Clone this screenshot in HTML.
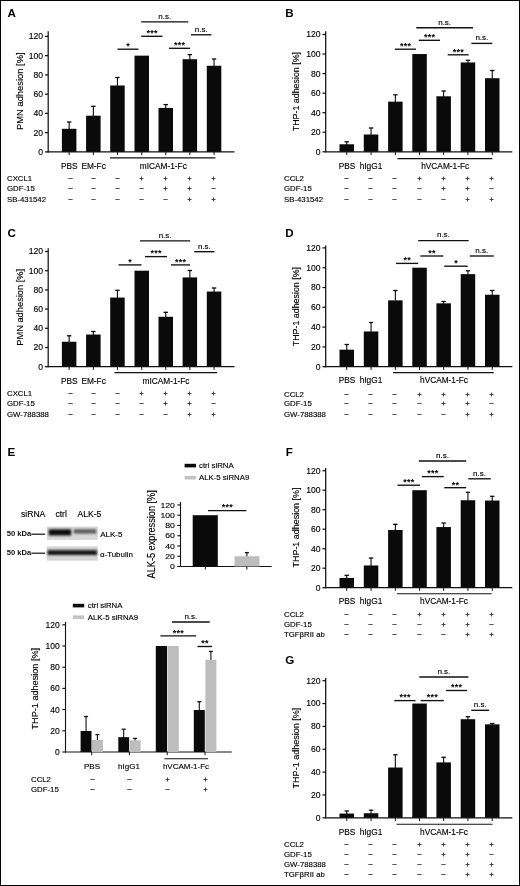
<!DOCTYPE html>
<html lang="en">
<head>
<meta charset="utf-8">
<title>Figure</title>
<style>
html,body{margin:0;padding:0;background:#fff;}
body{width:520px;height:886px;overflow:hidden;position:relative;}
svg{display:block;position:absolute;left:0;top:0;will-change:transform;transform:translateZ(0);}
svg text{font-family:'Liberation Sans', sans-serif;}
.frame{position:absolute;left:0;top:0;width:518px;height:884px;border:1px solid #000;pointer-events:none;}
</style>
</head>
<body>
<svg width="520" height="886" viewBox="0 0 520 886">
<rect x="0" y="0" width="520" height="886" fill="#fff"/>
<text x="7.40" y="17.20" font-size="11.6" text-anchor="start" font-weight="bold" fill="#000">A</text>
<line x1="48.20" y1="31.20" x2="48.20" y2="152.40" stroke="#111" stroke-width="1.25"/>
<line x1="45.00" y1="151.90" x2="48.20" y2="151.90" stroke="#111" stroke-width="1.25"/>
<text x="43.00" y="154.80" font-size="8.6" text-anchor="end" font-weight="normal" fill="#000" stroke="#000" stroke-width="0.14">0</text>
<line x1="45.00" y1="132.65" x2="48.20" y2="132.65" stroke="#111" stroke-width="1.25"/>
<text x="43.00" y="135.55" font-size="8.6" text-anchor="end" font-weight="normal" fill="#000" stroke="#000" stroke-width="0.14">20</text>
<line x1="45.00" y1="113.40" x2="48.20" y2="113.40" stroke="#111" stroke-width="1.25"/>
<text x="43.00" y="116.30" font-size="8.6" text-anchor="end" font-weight="normal" fill="#000" stroke="#000" stroke-width="0.14">40</text>
<line x1="45.00" y1="94.15" x2="48.20" y2="94.15" stroke="#111" stroke-width="1.25"/>
<text x="43.00" y="97.05" font-size="8.6" text-anchor="end" font-weight="normal" fill="#000" stroke="#000" stroke-width="0.14">60</text>
<line x1="45.00" y1="74.90" x2="48.20" y2="74.90" stroke="#111" stroke-width="1.25"/>
<text x="43.00" y="77.80" font-size="8.6" text-anchor="end" font-weight="normal" fill="#000" stroke="#000" stroke-width="0.14">80</text>
<line x1="45.00" y1="55.65" x2="48.20" y2="55.65" stroke="#111" stroke-width="1.25"/>
<text x="43.00" y="58.55" font-size="8.6" text-anchor="end" font-weight="normal" fill="#000" stroke="#000" stroke-width="0.14">100</text>
<line x1="45.00" y1="36.40" x2="48.20" y2="36.40" stroke="#111" stroke-width="1.25"/>
<text x="43.00" y="39.30" font-size="8.6" text-anchor="end" font-weight="normal" fill="#000" stroke="#000" stroke-width="0.14">120</text>
<line x1="47.70" y1="151.90" x2="234.50" y2="151.90" stroke="#111" stroke-width="1.2"/>
<line x1="69.15" y1="129.30" x2="69.15" y2="122.00" stroke="#0a0a0a" stroke-width="1.1"/>
<line x1="66.95" y1="122.00" x2="71.35" y2="122.00" stroke="#0a0a0a" stroke-width="1.3"/>
<rect x="61.90" y="128.80" width="14.50" height="23.10" fill="#0a0a0a"/>
<line x1="69.15" y1="151.90" x2="69.15" y2="155.10" stroke="#111" stroke-width="1.0"/>
<line x1="93.35" y1="116.21" x2="93.35" y2="106.30" stroke="#0a0a0a" stroke-width="1.1"/>
<line x1="91.15" y1="106.30" x2="95.55" y2="106.30" stroke="#0a0a0a" stroke-width="1.3"/>
<rect x="86.10" y="115.71" width="14.50" height="36.19" fill="#0a0a0a"/>
<line x1="93.35" y1="151.90" x2="93.35" y2="155.10" stroke="#111" stroke-width="1.0"/>
<line x1="117.45" y1="85.99" x2="117.45" y2="77.50" stroke="#0a0a0a" stroke-width="1.1"/>
<line x1="115.25" y1="77.50" x2="119.65" y2="77.50" stroke="#0a0a0a" stroke-width="1.3"/>
<rect x="110.20" y="85.49" width="14.50" height="66.41" fill="#0a0a0a"/>
<line x1="117.45" y1="151.90" x2="117.45" y2="155.10" stroke="#111" stroke-width="1.0"/>
<rect x="134.50" y="55.65" width="14.50" height="96.25" fill="#0a0a0a"/>
<line x1="141.75" y1="151.90" x2="141.75" y2="155.10" stroke="#111" stroke-width="1.0"/>
<line x1="165.75" y1="108.41" x2="165.75" y2="104.60" stroke="#0a0a0a" stroke-width="1.1"/>
<line x1="163.55" y1="104.60" x2="167.95" y2="104.60" stroke="#0a0a0a" stroke-width="1.3"/>
<rect x="158.50" y="107.91" width="14.50" height="43.99" fill="#0a0a0a"/>
<line x1="165.75" y1="151.90" x2="165.75" y2="155.10" stroke="#111" stroke-width="1.0"/>
<line x1="189.85" y1="59.71" x2="189.85" y2="54.60" stroke="#0a0a0a" stroke-width="1.1"/>
<line x1="187.65" y1="54.60" x2="192.05" y2="54.60" stroke="#0a0a0a" stroke-width="1.3"/>
<rect x="182.60" y="59.21" width="14.50" height="92.69" fill="#0a0a0a"/>
<line x1="189.85" y1="151.90" x2="189.85" y2="155.10" stroke="#111" stroke-width="1.0"/>
<line x1="214.05" y1="66.26" x2="214.05" y2="59.00" stroke="#0a0a0a" stroke-width="1.1"/>
<line x1="211.85" y1="59.00" x2="216.25" y2="59.00" stroke="#0a0a0a" stroke-width="1.3"/>
<rect x="206.80" y="65.76" width="14.50" height="86.14" fill="#0a0a0a"/>
<line x1="214.05" y1="151.90" x2="214.05" y2="155.10" stroke="#111" stroke-width="1.0"/>
<text x="22.60" y="91.20" font-size="9.0" text-anchor="middle" font-weight="normal" fill="#000" stroke="#000" stroke-width="0.14" transform="rotate(-90 22.60 91.20)" textLength="77.5" lengthAdjust="spacingAndGlyphs">PMN adhesion [%]</text>
<text x="69.20" y="169.20" font-size="8.3" text-anchor="middle" font-weight="normal" fill="#000" stroke="#000" stroke-width="0.14">PBS</text>
<text x="93.60" y="169.20" font-size="8.3" text-anchor="middle" font-weight="normal" fill="#000" stroke="#000" stroke-width="0.14">EM-Fc</text>
<text x="163.30" y="169.20" font-size="8.3" text-anchor="middle" font-weight="normal" fill="#000" stroke="#000" stroke-width="0.14">mICAM-1-Fc</text>
<line x1="110.00" y1="157.90" x2="215.50" y2="157.90" stroke="#111" stroke-width="1.1"/>
<line x1="117.50" y1="49.20" x2="138.50" y2="49.20" stroke="#111" stroke-width="1.35"/>
<text x="128.20" y="49.00" font-size="9" text-anchor="middle" font-weight="bold" fill="#000" letter-spacing="0.25">*</text>
<line x1="141.20" y1="36.30" x2="162.50" y2="36.30" stroke="#111" stroke-width="1.35"/>
<text x="152.05" y="36.10" font-size="9" text-anchor="middle" font-weight="bold" fill="#000" letter-spacing="0.25">***</text>
<line x1="141.20" y1="21.80" x2="188.30" y2="21.80" stroke="#111" stroke-width="1.35"/>
<text x="164.75" y="18.60" font-size="8" text-anchor="middle" font-weight="normal" fill="#000" stroke="#000" stroke-width="0.14">n.s.</text>
<line x1="169.00" y1="48.30" x2="190.00" y2="48.30" stroke="#111" stroke-width="1.35"/>
<text x="179.70" y="48.10" font-size="9" text-anchor="middle" font-weight="bold" fill="#000" letter-spacing="0.25">***</text>
<line x1="191.00" y1="34.80" x2="211.40" y2="34.80" stroke="#111" stroke-width="1.35"/>
<text x="201.20" y="31.60" font-size="8" text-anchor="middle" font-weight="normal" fill="#000" stroke="#000" stroke-width="0.14">n.s.</text>
<text x="7.00" y="180.80" font-size="7.8" text-anchor="start" font-weight="normal" fill="#000" stroke="#000" stroke-width="0.14">CXCL1</text>
<line x1="68.30" y1="178.50" x2="72.70" y2="178.50" stroke="#555" stroke-width="1.0"/>
<line x1="91.30" y1="178.50" x2="95.70" y2="178.50" stroke="#555" stroke-width="1.0"/>
<line x1="115.30" y1="178.50" x2="119.70" y2="178.50" stroke="#555" stroke-width="1.0"/>
<line x1="139.50" y1="178.50" x2="143.50" y2="178.50" stroke="#444" stroke-width="1.0"/>
<line x1="141.50" y1="176.50" x2="141.50" y2="180.50" stroke="#444" stroke-width="1.0"/>
<line x1="163.50" y1="178.50" x2="167.50" y2="178.50" stroke="#444" stroke-width="1.0"/>
<line x1="165.50" y1="176.50" x2="165.50" y2="180.50" stroke="#444" stroke-width="1.0"/>
<line x1="187.50" y1="178.50" x2="191.50" y2="178.50" stroke="#444" stroke-width="1.0"/>
<line x1="189.50" y1="176.50" x2="189.50" y2="180.50" stroke="#444" stroke-width="1.0"/>
<line x1="211.50" y1="178.50" x2="215.50" y2="178.50" stroke="#444" stroke-width="1.0"/>
<line x1="213.50" y1="176.50" x2="213.50" y2="180.50" stroke="#444" stroke-width="1.0"/>
<text x="7.00" y="191.30" font-size="7.8" text-anchor="start" font-weight="normal" fill="#000" stroke="#000" stroke-width="0.14">GDF-15</text>
<line x1="68.30" y1="188.50" x2="72.70" y2="188.50" stroke="#555" stroke-width="1.0"/>
<line x1="91.30" y1="188.50" x2="95.70" y2="188.50" stroke="#555" stroke-width="1.0"/>
<line x1="115.30" y1="188.50" x2="119.70" y2="188.50" stroke="#555" stroke-width="1.0"/>
<line x1="139.30" y1="188.50" x2="143.70" y2="188.50" stroke="#555" stroke-width="1.0"/>
<line x1="163.50" y1="188.50" x2="167.50" y2="188.50" stroke="#444" stroke-width="1.0"/>
<line x1="165.50" y1="186.50" x2="165.50" y2="190.50" stroke="#444" stroke-width="1.0"/>
<line x1="187.50" y1="188.50" x2="191.50" y2="188.50" stroke="#444" stroke-width="1.0"/>
<line x1="189.50" y1="186.50" x2="189.50" y2="190.50" stroke="#444" stroke-width="1.0"/>
<line x1="211.30" y1="188.50" x2="215.70" y2="188.50" stroke="#555" stroke-width="1.0"/>
<text x="7.00" y="201.80" font-size="7.8" text-anchor="start" font-weight="normal" fill="#000" stroke="#000" stroke-width="0.14">SB-431542</text>
<line x1="68.30" y1="199.50" x2="72.70" y2="199.50" stroke="#555" stroke-width="1.0"/>
<line x1="91.30" y1="199.50" x2="95.70" y2="199.50" stroke="#555" stroke-width="1.0"/>
<line x1="115.30" y1="199.50" x2="119.70" y2="199.50" stroke="#555" stroke-width="1.0"/>
<line x1="139.30" y1="199.50" x2="143.70" y2="199.50" stroke="#555" stroke-width="1.0"/>
<line x1="163.30" y1="199.50" x2="167.70" y2="199.50" stroke="#555" stroke-width="1.0"/>
<line x1="187.50" y1="199.50" x2="191.50" y2="199.50" stroke="#444" stroke-width="1.0"/>
<line x1="189.50" y1="197.50" x2="189.50" y2="201.50" stroke="#444" stroke-width="1.0"/>
<line x1="211.50" y1="199.50" x2="215.50" y2="199.50" stroke="#444" stroke-width="1.0"/>
<line x1="213.50" y1="197.50" x2="213.50" y2="201.50" stroke="#444" stroke-width="1.0"/>
<text x="285.30" y="17.40" font-size="11.6" text-anchor="start" font-weight="bold" fill="#000">B</text>
<line x1="325.70" y1="31.20" x2="325.70" y2="152.30" stroke="#111" stroke-width="1.25"/>
<line x1="322.50" y1="151.80" x2="325.70" y2="151.80" stroke="#111" stroke-width="1.25"/>
<text x="320.50" y="154.70" font-size="8.6" text-anchor="end" font-weight="normal" fill="#000" stroke="#000" stroke-width="0.14">0</text>
<line x1="322.50" y1="132.25" x2="325.70" y2="132.25" stroke="#111" stroke-width="1.25"/>
<text x="320.50" y="135.15" font-size="8.6" text-anchor="end" font-weight="normal" fill="#000" stroke="#000" stroke-width="0.14">20</text>
<line x1="322.50" y1="112.70" x2="325.70" y2="112.70" stroke="#111" stroke-width="1.25"/>
<text x="320.50" y="115.60" font-size="8.6" text-anchor="end" font-weight="normal" fill="#000" stroke="#000" stroke-width="0.14">40</text>
<line x1="322.50" y1="93.15" x2="325.70" y2="93.15" stroke="#111" stroke-width="1.25"/>
<text x="320.50" y="96.05" font-size="8.6" text-anchor="end" font-weight="normal" fill="#000" stroke="#000" stroke-width="0.14">60</text>
<line x1="322.50" y1="73.60" x2="325.70" y2="73.60" stroke="#111" stroke-width="1.25"/>
<text x="320.50" y="76.50" font-size="8.6" text-anchor="end" font-weight="normal" fill="#000" stroke="#000" stroke-width="0.14">80</text>
<line x1="322.50" y1="54.05" x2="325.70" y2="54.05" stroke="#111" stroke-width="1.25"/>
<text x="320.50" y="56.95" font-size="8.6" text-anchor="end" font-weight="normal" fill="#000" stroke="#000" stroke-width="0.14">100</text>
<line x1="322.50" y1="34.50" x2="325.70" y2="34.50" stroke="#111" stroke-width="1.25"/>
<text x="320.50" y="37.40" font-size="8.6" text-anchor="end" font-weight="normal" fill="#000" stroke="#000" stroke-width="0.14">120</text>
<line x1="325.20" y1="151.80" x2="512.30" y2="151.80" stroke="#111" stroke-width="1.2"/>
<line x1="346.75" y1="144.77" x2="346.75" y2="141.80" stroke="#0a0a0a" stroke-width="1.1"/>
<line x1="344.55" y1="141.80" x2="348.95" y2="141.80" stroke="#0a0a0a" stroke-width="1.3"/>
<rect x="339.50" y="144.27" width="14.50" height="7.53" fill="#0a0a0a"/>
<line x1="346.75" y1="151.80" x2="346.75" y2="155.00" stroke="#111" stroke-width="1.0"/>
<line x1="371.05" y1="135.00" x2="371.05" y2="128.00" stroke="#0a0a0a" stroke-width="1.1"/>
<line x1="368.85" y1="128.00" x2="373.25" y2="128.00" stroke="#0a0a0a" stroke-width="1.3"/>
<rect x="363.80" y="134.50" width="14.50" height="17.30" fill="#0a0a0a"/>
<line x1="371.05" y1="151.80" x2="371.05" y2="155.00" stroke="#111" stroke-width="1.0"/>
<line x1="395.35" y1="102.15" x2="395.35" y2="94.80" stroke="#0a0a0a" stroke-width="1.1"/>
<line x1="393.15" y1="94.80" x2="397.55" y2="94.80" stroke="#0a0a0a" stroke-width="1.3"/>
<rect x="388.10" y="101.65" width="14.50" height="50.15" fill="#0a0a0a"/>
<line x1="395.35" y1="151.80" x2="395.35" y2="155.00" stroke="#111" stroke-width="1.0"/>
<rect x="412.30" y="54.05" width="14.50" height="97.75" fill="#0a0a0a"/>
<line x1="419.55" y1="151.80" x2="419.55" y2="155.00" stroke="#111" stroke-width="1.0"/>
<line x1="443.65" y1="96.78" x2="443.65" y2="91.00" stroke="#0a0a0a" stroke-width="1.1"/>
<line x1="441.45" y1="91.00" x2="445.85" y2="91.00" stroke="#0a0a0a" stroke-width="1.3"/>
<rect x="436.40" y="96.28" width="14.50" height="55.52" fill="#0a0a0a"/>
<line x1="443.65" y1="151.80" x2="443.65" y2="155.00" stroke="#111" stroke-width="1.0"/>
<line x1="467.95" y1="62.96" x2="467.95" y2="60.30" stroke="#0a0a0a" stroke-width="1.1"/>
<line x1="465.75" y1="60.30" x2="470.15" y2="60.30" stroke="#0a0a0a" stroke-width="1.3"/>
<rect x="460.70" y="62.46" width="14.50" height="89.34" fill="#0a0a0a"/>
<line x1="467.95" y1="151.80" x2="467.95" y2="155.00" stroke="#111" stroke-width="1.0"/>
<line x1="492.25" y1="78.69" x2="492.25" y2="70.50" stroke="#0a0a0a" stroke-width="1.1"/>
<line x1="490.05" y1="70.50" x2="494.45" y2="70.50" stroke="#0a0a0a" stroke-width="1.3"/>
<rect x="485.00" y="78.19" width="14.50" height="73.61" fill="#0a0a0a"/>
<line x1="492.25" y1="151.80" x2="492.25" y2="155.00" stroke="#111" stroke-width="1.0"/>
<text x="299.10" y="91.60" font-size="9.0" text-anchor="middle" font-weight="normal" fill="#000" stroke="#000" stroke-width="0.14" transform="rotate(-90 299.10 91.60)" textLength="79.3" lengthAdjust="spacingAndGlyphs">THP-1 adhesion [%]</text>
<text x="347.00" y="169.20" font-size="8.3" text-anchor="middle" font-weight="normal" fill="#000" stroke="#000" stroke-width="0.14">PBS</text>
<text x="371.00" y="169.20" font-size="8.3" text-anchor="middle" font-weight="normal" fill="#000" stroke="#000" stroke-width="0.14">hIgG1</text>
<text x="445.20" y="169.20" font-size="8.3" text-anchor="middle" font-weight="normal" fill="#000" stroke="#000" stroke-width="0.14">hVCAM-1-Fc</text>
<line x1="397.50" y1="158.60" x2="492.30" y2="158.60" stroke="#111" stroke-width="1.1"/>
<line x1="394.80" y1="49.20" x2="416.00" y2="49.20" stroke="#111" stroke-width="1.35"/>
<text x="405.60" y="49.00" font-size="9" text-anchor="middle" font-weight="bold" fill="#000" letter-spacing="0.25">***</text>
<line x1="418.80" y1="40.30" x2="440.00" y2="40.30" stroke="#111" stroke-width="1.35"/>
<text x="429.60" y="40.10" font-size="9" text-anchor="middle" font-weight="bold" fill="#000" letter-spacing="0.25">***</text>
<line x1="416.30" y1="27.70" x2="473.00" y2="27.70" stroke="#111" stroke-width="1.35"/>
<text x="444.65" y="24.50" font-size="8" text-anchor="middle" font-weight="normal" fill="#000" stroke="#000" stroke-width="0.14">n.s.</text>
<line x1="447.70" y1="54.80" x2="468.60" y2="54.80" stroke="#111" stroke-width="1.35"/>
<text x="458.35" y="54.60" font-size="9" text-anchor="middle" font-weight="bold" fill="#000" letter-spacing="0.25">***</text>
<line x1="471.40" y1="43.40" x2="492.30" y2="43.40" stroke="#111" stroke-width="1.35"/>
<text x="481.85" y="40.20" font-size="8" text-anchor="middle" font-weight="normal" fill="#000" stroke="#000" stroke-width="0.14">n.s.</text>
<text x="284.00" y="181.30" font-size="7.8" text-anchor="start" font-weight="normal" fill="#000" stroke="#000" stroke-width="0.14">CCL2</text>
<line x1="344.30" y1="178.50" x2="348.70" y2="178.50" stroke="#555" stroke-width="1.0"/>
<line x1="368.30" y1="178.50" x2="372.70" y2="178.50" stroke="#555" stroke-width="1.0"/>
<line x1="392.30" y1="178.50" x2="396.70" y2="178.50" stroke="#555" stroke-width="1.0"/>
<line x1="417.50" y1="178.50" x2="421.50" y2="178.50" stroke="#444" stroke-width="1.0"/>
<line x1="419.50" y1="176.50" x2="419.50" y2="180.50" stroke="#444" stroke-width="1.0"/>
<line x1="441.50" y1="178.50" x2="445.50" y2="178.50" stroke="#444" stroke-width="1.0"/>
<line x1="443.50" y1="176.50" x2="443.50" y2="180.50" stroke="#444" stroke-width="1.0"/>
<line x1="465.50" y1="178.50" x2="469.50" y2="178.50" stroke="#444" stroke-width="1.0"/>
<line x1="467.50" y1="176.50" x2="467.50" y2="180.50" stroke="#444" stroke-width="1.0"/>
<line x1="489.50" y1="178.50" x2="493.50" y2="178.50" stroke="#444" stroke-width="1.0"/>
<line x1="491.50" y1="176.50" x2="491.50" y2="180.50" stroke="#444" stroke-width="1.0"/>
<text x="284.00" y="191.30" font-size="7.8" text-anchor="start" font-weight="normal" fill="#000" stroke="#000" stroke-width="0.14">GDF-15</text>
<line x1="344.30" y1="188.50" x2="348.70" y2="188.50" stroke="#555" stroke-width="1.0"/>
<line x1="368.30" y1="188.50" x2="372.70" y2="188.50" stroke="#555" stroke-width="1.0"/>
<line x1="392.30" y1="188.50" x2="396.70" y2="188.50" stroke="#555" stroke-width="1.0"/>
<line x1="417.30" y1="188.50" x2="421.70" y2="188.50" stroke="#555" stroke-width="1.0"/>
<line x1="441.50" y1="188.50" x2="445.50" y2="188.50" stroke="#444" stroke-width="1.0"/>
<line x1="443.50" y1="186.50" x2="443.50" y2="190.50" stroke="#444" stroke-width="1.0"/>
<line x1="465.50" y1="188.50" x2="469.50" y2="188.50" stroke="#444" stroke-width="1.0"/>
<line x1="467.50" y1="186.50" x2="467.50" y2="190.50" stroke="#444" stroke-width="1.0"/>
<line x1="489.30" y1="188.50" x2="493.70" y2="188.50" stroke="#555" stroke-width="1.0"/>
<text x="284.00" y="201.80" font-size="7.8" text-anchor="start" font-weight="normal" fill="#000" stroke="#000" stroke-width="0.14">SB-431542</text>
<line x1="344.30" y1="199.50" x2="348.70" y2="199.50" stroke="#555" stroke-width="1.0"/>
<line x1="368.30" y1="199.50" x2="372.70" y2="199.50" stroke="#555" stroke-width="1.0"/>
<line x1="392.30" y1="199.50" x2="396.70" y2="199.50" stroke="#555" stroke-width="1.0"/>
<line x1="417.30" y1="199.50" x2="421.70" y2="199.50" stroke="#555" stroke-width="1.0"/>
<line x1="441.30" y1="199.50" x2="445.70" y2="199.50" stroke="#555" stroke-width="1.0"/>
<line x1="465.50" y1="199.50" x2="469.50" y2="199.50" stroke="#444" stroke-width="1.0"/>
<line x1="467.50" y1="197.50" x2="467.50" y2="201.50" stroke="#444" stroke-width="1.0"/>
<line x1="489.50" y1="199.50" x2="493.50" y2="199.50" stroke="#444" stroke-width="1.0"/>
<line x1="491.50" y1="197.50" x2="491.50" y2="201.50" stroke="#444" stroke-width="1.0"/>
<text x="7.60" y="237.20" font-size="11.6" text-anchor="start" font-weight="bold" fill="#000">C</text>
<line x1="48.20" y1="248.20" x2="48.20" y2="367.20" stroke="#111" stroke-width="1.25"/>
<line x1="45.00" y1="366.70" x2="48.20" y2="366.70" stroke="#111" stroke-width="1.25"/>
<text x="43.00" y="369.60" font-size="8.6" text-anchor="end" font-weight="normal" fill="#000" stroke="#000" stroke-width="0.14">0</text>
<line x1="45.00" y1="347.50" x2="48.20" y2="347.50" stroke="#111" stroke-width="1.25"/>
<text x="43.00" y="350.40" font-size="8.6" text-anchor="end" font-weight="normal" fill="#000" stroke="#000" stroke-width="0.14">20</text>
<line x1="45.00" y1="328.30" x2="48.20" y2="328.30" stroke="#111" stroke-width="1.25"/>
<text x="43.00" y="331.20" font-size="8.6" text-anchor="end" font-weight="normal" fill="#000" stroke="#000" stroke-width="0.14">40</text>
<line x1="45.00" y1="309.10" x2="48.20" y2="309.10" stroke="#111" stroke-width="1.25"/>
<text x="43.00" y="312.00" font-size="8.6" text-anchor="end" font-weight="normal" fill="#000" stroke="#000" stroke-width="0.14">60</text>
<line x1="45.00" y1="289.90" x2="48.20" y2="289.90" stroke="#111" stroke-width="1.25"/>
<text x="43.00" y="292.80" font-size="8.6" text-anchor="end" font-weight="normal" fill="#000" stroke="#000" stroke-width="0.14">80</text>
<line x1="45.00" y1="270.70" x2="48.20" y2="270.70" stroke="#111" stroke-width="1.25"/>
<text x="43.00" y="273.60" font-size="8.6" text-anchor="end" font-weight="normal" fill="#000" stroke="#000" stroke-width="0.14">100</text>
<line x1="45.00" y1="251.50" x2="48.20" y2="251.50" stroke="#111" stroke-width="1.25"/>
<text x="43.00" y="254.40" font-size="8.6" text-anchor="end" font-weight="normal" fill="#000" stroke="#000" stroke-width="0.14">120</text>
<line x1="47.70" y1="366.70" x2="234.50" y2="366.70" stroke="#111" stroke-width="1.2"/>
<line x1="69.15" y1="342.24" x2="69.15" y2="335.80" stroke="#0a0a0a" stroke-width="1.1"/>
<line x1="66.95" y1="335.80" x2="71.35" y2="335.80" stroke="#0a0a0a" stroke-width="1.3"/>
<rect x="61.90" y="341.74" width="14.50" height="24.96" fill="#0a0a0a"/>
<line x1="69.15" y1="366.70" x2="69.15" y2="369.90" stroke="#111" stroke-width="1.0"/>
<line x1="93.35" y1="335.04" x2="93.35" y2="331.50" stroke="#0a0a0a" stroke-width="1.1"/>
<line x1="91.15" y1="331.50" x2="95.55" y2="331.50" stroke="#0a0a0a" stroke-width="1.3"/>
<rect x="86.10" y="334.54" width="14.50" height="32.16" fill="#0a0a0a"/>
<line x1="93.35" y1="366.70" x2="93.35" y2="369.90" stroke="#111" stroke-width="1.0"/>
<line x1="117.45" y1="298.08" x2="117.45" y2="290.30" stroke="#0a0a0a" stroke-width="1.1"/>
<line x1="115.25" y1="290.30" x2="119.65" y2="290.30" stroke="#0a0a0a" stroke-width="1.3"/>
<rect x="110.20" y="297.58" width="14.50" height="69.12" fill="#0a0a0a"/>
<line x1="117.45" y1="366.70" x2="117.45" y2="369.90" stroke="#111" stroke-width="1.0"/>
<rect x="134.50" y="270.70" width="14.50" height="96.00" fill="#0a0a0a"/>
<line x1="141.75" y1="366.70" x2="141.75" y2="369.90" stroke="#111" stroke-width="1.0"/>
<line x1="165.75" y1="317.28" x2="165.75" y2="312.30" stroke="#0a0a0a" stroke-width="1.1"/>
<line x1="163.55" y1="312.30" x2="167.95" y2="312.30" stroke="#0a0a0a" stroke-width="1.3"/>
<rect x="158.50" y="316.78" width="14.50" height="49.92" fill="#0a0a0a"/>
<line x1="165.75" y1="366.70" x2="165.75" y2="369.90" stroke="#111" stroke-width="1.0"/>
<line x1="189.85" y1="277.92" x2="189.85" y2="270.50" stroke="#0a0a0a" stroke-width="1.1"/>
<line x1="187.65" y1="270.50" x2="192.05" y2="270.50" stroke="#0a0a0a" stroke-width="1.3"/>
<rect x="182.60" y="277.42" width="14.50" height="89.28" fill="#0a0a0a"/>
<line x1="189.85" y1="366.70" x2="189.85" y2="369.90" stroke="#111" stroke-width="1.0"/>
<line x1="214.05" y1="292.03" x2="214.05" y2="288.00" stroke="#0a0a0a" stroke-width="1.1"/>
<line x1="211.85" y1="288.00" x2="216.25" y2="288.00" stroke="#0a0a0a" stroke-width="1.3"/>
<rect x="206.80" y="291.53" width="14.50" height="75.17" fill="#0a0a0a"/>
<line x1="214.05" y1="366.70" x2="214.05" y2="369.90" stroke="#111" stroke-width="1.0"/>
<text x="22.60" y="307.30" font-size="9.0" text-anchor="middle" font-weight="normal" fill="#000" stroke="#000" stroke-width="0.14" transform="rotate(-90 22.60 307.30)" textLength="77.0" lengthAdjust="spacingAndGlyphs">PMN adhesion [%]</text>
<text x="69.20" y="384.40" font-size="8.3" text-anchor="middle" font-weight="normal" fill="#000" stroke="#000" stroke-width="0.14">PBS</text>
<text x="93.60" y="384.40" font-size="8.3" text-anchor="middle" font-weight="normal" fill="#000" stroke="#000" stroke-width="0.14">EM-Fc</text>
<text x="166.00" y="384.40" font-size="8.3" text-anchor="middle" font-weight="normal" fill="#000" stroke="#000" stroke-width="0.14">mICAM-1-Fc</text>
<line x1="114.50" y1="372.60" x2="217.00" y2="372.60" stroke="#111" stroke-width="1.1"/>
<line x1="118.50" y1="264.90" x2="141.50" y2="264.90" stroke="#111" stroke-width="1.35"/>
<text x="130.20" y="264.70" font-size="9" text-anchor="middle" font-weight="bold" fill="#000" letter-spacing="0.25">*</text>
<line x1="145.00" y1="256.60" x2="167.00" y2="256.60" stroke="#111" stroke-width="1.35"/>
<text x="156.20" y="256.40" font-size="9" text-anchor="middle" font-weight="bold" fill="#000" letter-spacing="0.25">***</text>
<line x1="140.00" y1="240.90" x2="190.20" y2="240.90" stroke="#111" stroke-width="1.35"/>
<text x="165.10" y="237.70" font-size="8" text-anchor="middle" font-weight="normal" fill="#000" stroke="#000" stroke-width="0.14">n.s.</text>
<line x1="171.00" y1="264.90" x2="190.00" y2="264.90" stroke="#111" stroke-width="1.35"/>
<text x="180.70" y="264.70" font-size="9" text-anchor="middle" font-weight="bold" fill="#000" letter-spacing="0.25">***</text>
<line x1="194.20" y1="251.70" x2="214.50" y2="251.70" stroke="#111" stroke-width="1.35"/>
<text x="204.35" y="248.50" font-size="8" text-anchor="middle" font-weight="normal" fill="#000" stroke="#000" stroke-width="0.14">n.s.</text>
<text x="7.00" y="395.80" font-size="7.8" text-anchor="start" font-weight="normal" fill="#000" stroke="#000" stroke-width="0.14">CXCL1</text>
<line x1="68.30" y1="393.50" x2="72.70" y2="393.50" stroke="#555" stroke-width="1.0"/>
<line x1="91.30" y1="393.50" x2="95.70" y2="393.50" stroke="#555" stroke-width="1.0"/>
<line x1="115.30" y1="393.50" x2="119.70" y2="393.50" stroke="#555" stroke-width="1.0"/>
<line x1="139.50" y1="393.50" x2="143.50" y2="393.50" stroke="#444" stroke-width="1.0"/>
<line x1="141.50" y1="391.50" x2="141.50" y2="395.50" stroke="#444" stroke-width="1.0"/>
<line x1="163.50" y1="393.50" x2="167.50" y2="393.50" stroke="#444" stroke-width="1.0"/>
<line x1="165.50" y1="391.50" x2="165.50" y2="395.50" stroke="#444" stroke-width="1.0"/>
<line x1="187.50" y1="393.50" x2="191.50" y2="393.50" stroke="#444" stroke-width="1.0"/>
<line x1="189.50" y1="391.50" x2="189.50" y2="395.50" stroke="#444" stroke-width="1.0"/>
<line x1="211.50" y1="393.50" x2="215.50" y2="393.50" stroke="#444" stroke-width="1.0"/>
<line x1="213.50" y1="391.50" x2="213.50" y2="395.50" stroke="#444" stroke-width="1.0"/>
<text x="7.00" y="405.80" font-size="7.8" text-anchor="start" font-weight="normal" fill="#000" stroke="#000" stroke-width="0.14">GDF-15</text>
<line x1="68.30" y1="403.50" x2="72.70" y2="403.50" stroke="#555" stroke-width="1.0"/>
<line x1="91.30" y1="403.50" x2="95.70" y2="403.50" stroke="#555" stroke-width="1.0"/>
<line x1="115.30" y1="403.50" x2="119.70" y2="403.50" stroke="#555" stroke-width="1.0"/>
<line x1="139.30" y1="403.50" x2="143.70" y2="403.50" stroke="#555" stroke-width="1.0"/>
<line x1="163.50" y1="403.50" x2="167.50" y2="403.50" stroke="#444" stroke-width="1.0"/>
<line x1="165.50" y1="401.50" x2="165.50" y2="405.50" stroke="#444" stroke-width="1.0"/>
<line x1="187.50" y1="403.50" x2="191.50" y2="403.50" stroke="#444" stroke-width="1.0"/>
<line x1="189.50" y1="401.50" x2="189.50" y2="405.50" stroke="#444" stroke-width="1.0"/>
<line x1="211.30" y1="403.50" x2="215.70" y2="403.50" stroke="#555" stroke-width="1.0"/>
<text x="7.00" y="416.80" font-size="7.8" text-anchor="start" font-weight="normal" fill="#000" stroke="#000" stroke-width="0.14">GW-788388</text>
<line x1="68.30" y1="414.50" x2="72.70" y2="414.50" stroke="#555" stroke-width="1.0"/>
<line x1="91.30" y1="414.50" x2="95.70" y2="414.50" stroke="#555" stroke-width="1.0"/>
<line x1="115.30" y1="414.50" x2="119.70" y2="414.50" stroke="#555" stroke-width="1.0"/>
<line x1="139.30" y1="414.50" x2="143.70" y2="414.50" stroke="#555" stroke-width="1.0"/>
<line x1="163.30" y1="414.50" x2="167.70" y2="414.50" stroke="#555" stroke-width="1.0"/>
<line x1="187.50" y1="414.50" x2="191.50" y2="414.50" stroke="#444" stroke-width="1.0"/>
<line x1="189.50" y1="412.50" x2="189.50" y2="416.50" stroke="#444" stroke-width="1.0"/>
<line x1="211.50" y1="414.50" x2="215.50" y2="414.50" stroke="#444" stroke-width="1.0"/>
<line x1="213.50" y1="412.50" x2="213.50" y2="416.50" stroke="#444" stroke-width="1.0"/>
<text x="285.20" y="237.20" font-size="11.6" text-anchor="start" font-weight="bold" fill="#000">D</text>
<line x1="325.70" y1="245.50" x2="325.70" y2="367.20" stroke="#111" stroke-width="1.25"/>
<line x1="322.50" y1="366.70" x2="325.70" y2="366.70" stroke="#111" stroke-width="1.25"/>
<text x="320.50" y="369.60" font-size="8.6" text-anchor="end" font-weight="normal" fill="#000" stroke="#000" stroke-width="0.14">0</text>
<line x1="322.50" y1="346.90" x2="325.70" y2="346.90" stroke="#111" stroke-width="1.25"/>
<text x="320.50" y="349.80" font-size="8.6" text-anchor="end" font-weight="normal" fill="#000" stroke="#000" stroke-width="0.14">20</text>
<line x1="322.50" y1="327.10" x2="325.70" y2="327.10" stroke="#111" stroke-width="1.25"/>
<text x="320.50" y="330.00" font-size="8.6" text-anchor="end" font-weight="normal" fill="#000" stroke="#000" stroke-width="0.14">40</text>
<line x1="322.50" y1="307.30" x2="325.70" y2="307.30" stroke="#111" stroke-width="1.25"/>
<text x="320.50" y="310.20" font-size="8.6" text-anchor="end" font-weight="normal" fill="#000" stroke="#000" stroke-width="0.14">60</text>
<line x1="322.50" y1="287.50" x2="325.70" y2="287.50" stroke="#111" stroke-width="1.25"/>
<text x="320.50" y="290.40" font-size="8.6" text-anchor="end" font-weight="normal" fill="#000" stroke="#000" stroke-width="0.14">80</text>
<line x1="322.50" y1="267.70" x2="325.70" y2="267.70" stroke="#111" stroke-width="1.25"/>
<text x="320.50" y="270.60" font-size="8.6" text-anchor="end" font-weight="normal" fill="#000" stroke="#000" stroke-width="0.14">100</text>
<line x1="322.50" y1="247.90" x2="325.70" y2="247.90" stroke="#111" stroke-width="1.25"/>
<text x="320.50" y="250.80" font-size="8.6" text-anchor="end" font-weight="normal" fill="#000" stroke="#000" stroke-width="0.14">120</text>
<line x1="325.20" y1="366.70" x2="512.30" y2="366.70" stroke="#111" stroke-width="1.2"/>
<line x1="346.75" y1="350.17" x2="346.75" y2="344.50" stroke="#0a0a0a" stroke-width="1.1"/>
<line x1="344.55" y1="344.50" x2="348.95" y2="344.50" stroke="#0a0a0a" stroke-width="1.3"/>
<rect x="339.50" y="349.67" width="14.50" height="17.03" fill="#0a0a0a"/>
<line x1="346.75" y1="366.70" x2="346.75" y2="369.90" stroke="#111" stroke-width="1.0"/>
<line x1="371.05" y1="331.96" x2="371.05" y2="322.50" stroke="#0a0a0a" stroke-width="1.1"/>
<line x1="368.85" y1="322.50" x2="373.25" y2="322.50" stroke="#0a0a0a" stroke-width="1.3"/>
<rect x="363.80" y="331.46" width="14.50" height="35.24" fill="#0a0a0a"/>
<line x1="371.05" y1="366.70" x2="371.05" y2="369.90" stroke="#111" stroke-width="1.0"/>
<line x1="395.35" y1="300.87" x2="395.35" y2="290.50" stroke="#0a0a0a" stroke-width="1.1"/>
<line x1="393.15" y1="290.50" x2="397.55" y2="290.50" stroke="#0a0a0a" stroke-width="1.3"/>
<rect x="388.10" y="300.37" width="14.50" height="66.33" fill="#0a0a0a"/>
<line x1="395.35" y1="366.70" x2="395.35" y2="369.90" stroke="#111" stroke-width="1.0"/>
<rect x="412.30" y="267.70" width="14.50" height="99.00" fill="#0a0a0a"/>
<line x1="419.55" y1="366.70" x2="419.55" y2="369.90" stroke="#111" stroke-width="1.0"/>
<line x1="443.65" y1="303.84" x2="443.65" y2="301.50" stroke="#0a0a0a" stroke-width="1.1"/>
<line x1="441.45" y1="301.50" x2="445.85" y2="301.50" stroke="#0a0a0a" stroke-width="1.3"/>
<rect x="436.40" y="303.34" width="14.50" height="63.36" fill="#0a0a0a"/>
<line x1="443.65" y1="366.70" x2="443.65" y2="369.90" stroke="#111" stroke-width="1.0"/>
<line x1="467.95" y1="274.63" x2="467.95" y2="270.80" stroke="#0a0a0a" stroke-width="1.1"/>
<line x1="465.75" y1="270.80" x2="470.15" y2="270.80" stroke="#0a0a0a" stroke-width="1.3"/>
<rect x="460.70" y="274.13" width="14.50" height="92.56" fill="#0a0a0a"/>
<line x1="467.95" y1="366.70" x2="467.95" y2="369.90" stroke="#111" stroke-width="1.0"/>
<line x1="492.25" y1="295.23" x2="492.25" y2="290.50" stroke="#0a0a0a" stroke-width="1.1"/>
<line x1="490.05" y1="290.50" x2="494.45" y2="290.50" stroke="#0a0a0a" stroke-width="1.3"/>
<rect x="485.00" y="294.73" width="14.50" height="71.97" fill="#0a0a0a"/>
<line x1="492.25" y1="366.70" x2="492.25" y2="369.90" stroke="#111" stroke-width="1.0"/>
<text x="299.40" y="306.60" font-size="9.0" text-anchor="middle" font-weight="normal" fill="#000" stroke="#000" stroke-width="0.14" transform="rotate(-90 299.40 306.60)" textLength="79.3" lengthAdjust="spacingAndGlyphs">THP-1 adhesion [%]</text>
<text x="347.00" y="383.40" font-size="8.3" text-anchor="middle" font-weight="normal" fill="#000" stroke="#000" stroke-width="0.14">PBS</text>
<text x="371.00" y="383.40" font-size="8.3" text-anchor="middle" font-weight="normal" fill="#000" stroke="#000" stroke-width="0.14">hIgG1</text>
<text x="444.00" y="383.40" font-size="8.3" text-anchor="middle" font-weight="normal" fill="#000" stroke="#000" stroke-width="0.14">hVCAM-1-Fc</text>
<line x1="393.00" y1="372.60" x2="493.80" y2="372.60" stroke="#111" stroke-width="1.1"/>
<line x1="396.00" y1="263.40" x2="418.20" y2="263.40" stroke="#111" stroke-width="1.35"/>
<text x="407.30" y="263.20" font-size="9" text-anchor="middle" font-weight="bold" fill="#000" letter-spacing="0.25">**</text>
<line x1="420.30" y1="256.00" x2="443.40" y2="256.00" stroke="#111" stroke-width="1.35"/>
<text x="432.05" y="255.80" font-size="9" text-anchor="middle" font-weight="bold" fill="#000" letter-spacing="0.25">**</text>
<line x1="418.20" y1="240.60" x2="468.60" y2="240.60" stroke="#111" stroke-width="1.35"/>
<text x="443.40" y="237.40" font-size="8" text-anchor="middle" font-weight="normal" fill="#000" stroke="#000" stroke-width="0.14">n.s.</text>
<line x1="444.30" y1="266.20" x2="467.70" y2="266.20" stroke="#111" stroke-width="1.35"/>
<text x="456.20" y="266.00" font-size="9" text-anchor="middle" font-weight="bold" fill="#000" letter-spacing="0.25">*</text>
<line x1="469.80" y1="256.00" x2="493.80" y2="256.00" stroke="#111" stroke-width="1.35"/>
<text x="481.80" y="252.80" font-size="8" text-anchor="middle" font-weight="normal" fill="#000" stroke="#000" stroke-width="0.14">n.s.</text>
<text x="284.00" y="396.80" font-size="7.8" text-anchor="start" font-weight="normal" fill="#000" stroke="#000" stroke-width="0.14">CCL2</text>
<line x1="344.30" y1="394.50" x2="348.70" y2="394.50" stroke="#555" stroke-width="1.0"/>
<line x1="368.30" y1="394.50" x2="372.70" y2="394.50" stroke="#555" stroke-width="1.0"/>
<line x1="392.30" y1="394.50" x2="396.70" y2="394.50" stroke="#555" stroke-width="1.0"/>
<line x1="417.50" y1="394.50" x2="421.50" y2="394.50" stroke="#444" stroke-width="1.0"/>
<line x1="419.50" y1="392.50" x2="419.50" y2="396.50" stroke="#444" stroke-width="1.0"/>
<line x1="441.50" y1="394.50" x2="445.50" y2="394.50" stroke="#444" stroke-width="1.0"/>
<line x1="443.50" y1="392.50" x2="443.50" y2="396.50" stroke="#444" stroke-width="1.0"/>
<line x1="465.50" y1="394.50" x2="469.50" y2="394.50" stroke="#444" stroke-width="1.0"/>
<line x1="467.50" y1="392.50" x2="467.50" y2="396.50" stroke="#444" stroke-width="1.0"/>
<line x1="489.50" y1="394.50" x2="493.50" y2="394.50" stroke="#444" stroke-width="1.0"/>
<line x1="491.50" y1="392.50" x2="491.50" y2="396.50" stroke="#444" stroke-width="1.0"/>
<text x="284.00" y="406.30" font-size="7.8" text-anchor="start" font-weight="normal" fill="#000" stroke="#000" stroke-width="0.14">GDF-15</text>
<line x1="344.30" y1="403.50" x2="348.70" y2="403.50" stroke="#555" stroke-width="1.0"/>
<line x1="368.30" y1="403.50" x2="372.70" y2="403.50" stroke="#555" stroke-width="1.0"/>
<line x1="392.30" y1="403.50" x2="396.70" y2="403.50" stroke="#555" stroke-width="1.0"/>
<line x1="417.30" y1="403.50" x2="421.70" y2="403.50" stroke="#555" stroke-width="1.0"/>
<line x1="441.50" y1="403.50" x2="445.50" y2="403.50" stroke="#444" stroke-width="1.0"/>
<line x1="443.50" y1="401.50" x2="443.50" y2="405.50" stroke="#444" stroke-width="1.0"/>
<line x1="465.50" y1="403.50" x2="469.50" y2="403.50" stroke="#444" stroke-width="1.0"/>
<line x1="467.50" y1="401.50" x2="467.50" y2="405.50" stroke="#444" stroke-width="1.0"/>
<line x1="489.30" y1="403.50" x2="493.70" y2="403.50" stroke="#555" stroke-width="1.0"/>
<text x="284.00" y="416.80" font-size="7.8" text-anchor="start" font-weight="normal" fill="#000" stroke="#000" stroke-width="0.14">GW-788388</text>
<line x1="344.30" y1="414.50" x2="348.70" y2="414.50" stroke="#555" stroke-width="1.0"/>
<line x1="368.30" y1="414.50" x2="372.70" y2="414.50" stroke="#555" stroke-width="1.0"/>
<line x1="392.30" y1="414.50" x2="396.70" y2="414.50" stroke="#555" stroke-width="1.0"/>
<line x1="417.30" y1="414.50" x2="421.70" y2="414.50" stroke="#555" stroke-width="1.0"/>
<line x1="441.30" y1="414.50" x2="445.70" y2="414.50" stroke="#555" stroke-width="1.0"/>
<line x1="465.50" y1="414.50" x2="469.50" y2="414.50" stroke="#444" stroke-width="1.0"/>
<line x1="467.50" y1="412.50" x2="467.50" y2="416.50" stroke="#444" stroke-width="1.0"/>
<line x1="489.50" y1="414.50" x2="493.50" y2="414.50" stroke="#444" stroke-width="1.0"/>
<line x1="491.50" y1="412.50" x2="491.50" y2="416.50" stroke="#444" stroke-width="1.0"/>
<text x="285.70" y="455.60" font-size="11.6" text-anchor="start" font-weight="bold" fill="#000">F</text>
<line x1="325.70" y1="468.00" x2="325.70" y2="588.20" stroke="#111" stroke-width="1.25"/>
<line x1="322.50" y1="587.70" x2="325.70" y2="587.70" stroke="#111" stroke-width="1.25"/>
<text x="320.50" y="590.60" font-size="8.6" text-anchor="end" font-weight="normal" fill="#000" stroke="#000" stroke-width="0.14">0</text>
<line x1="322.50" y1="568.20" x2="325.70" y2="568.20" stroke="#111" stroke-width="1.25"/>
<text x="320.50" y="571.10" font-size="8.6" text-anchor="end" font-weight="normal" fill="#000" stroke="#000" stroke-width="0.14">20</text>
<line x1="322.50" y1="548.70" x2="325.70" y2="548.70" stroke="#111" stroke-width="1.25"/>
<text x="320.50" y="551.60" font-size="8.6" text-anchor="end" font-weight="normal" fill="#000" stroke="#000" stroke-width="0.14">40</text>
<line x1="322.50" y1="529.20" x2="325.70" y2="529.20" stroke="#111" stroke-width="1.25"/>
<text x="320.50" y="532.10" font-size="8.6" text-anchor="end" font-weight="normal" fill="#000" stroke="#000" stroke-width="0.14">60</text>
<line x1="322.50" y1="509.70" x2="325.70" y2="509.70" stroke="#111" stroke-width="1.25"/>
<text x="320.50" y="512.60" font-size="8.6" text-anchor="end" font-weight="normal" fill="#000" stroke="#000" stroke-width="0.14">80</text>
<line x1="322.50" y1="490.20" x2="325.70" y2="490.20" stroke="#111" stroke-width="1.25"/>
<text x="320.50" y="493.10" font-size="8.6" text-anchor="end" font-weight="normal" fill="#000" stroke="#000" stroke-width="0.14">100</text>
<line x1="322.50" y1="470.70" x2="325.70" y2="470.70" stroke="#111" stroke-width="1.25"/>
<text x="320.50" y="473.60" font-size="8.6" text-anchor="end" font-weight="normal" fill="#000" stroke="#000" stroke-width="0.14">120</text>
<line x1="325.20" y1="587.70" x2="512.30" y2="587.70" stroke="#111" stroke-width="1.2"/>
<line x1="346.75" y1="578.45" x2="346.75" y2="575.30" stroke="#0a0a0a" stroke-width="1.1"/>
<line x1="344.55" y1="575.30" x2="348.95" y2="575.30" stroke="#0a0a0a" stroke-width="1.3"/>
<rect x="339.50" y="577.95" width="14.50" height="9.75" fill="#0a0a0a"/>
<line x1="346.75" y1="587.70" x2="346.75" y2="590.90" stroke="#111" stroke-width="1.0"/>
<line x1="371.05" y1="565.97" x2="371.05" y2="558.00" stroke="#0a0a0a" stroke-width="1.1"/>
<line x1="368.85" y1="558.00" x2="373.25" y2="558.00" stroke="#0a0a0a" stroke-width="1.3"/>
<rect x="363.80" y="565.47" width="14.50" height="22.23" fill="#0a0a0a"/>
<line x1="371.05" y1="587.70" x2="371.05" y2="590.90" stroke="#111" stroke-width="1.0"/>
<line x1="395.35" y1="530.48" x2="395.35" y2="524.30" stroke="#0a0a0a" stroke-width="1.1"/>
<line x1="393.15" y1="524.30" x2="397.55" y2="524.30" stroke="#0a0a0a" stroke-width="1.3"/>
<rect x="388.10" y="529.98" width="14.50" height="57.72" fill="#0a0a0a"/>
<line x1="395.35" y1="587.70" x2="395.35" y2="590.90" stroke="#111" stroke-width="1.0"/>
<rect x="412.30" y="490.20" width="14.50" height="97.50" fill="#0a0a0a"/>
<line x1="419.55" y1="587.70" x2="419.55" y2="590.90" stroke="#111" stroke-width="1.0"/>
<line x1="443.65" y1="527.56" x2="443.65" y2="523.00" stroke="#0a0a0a" stroke-width="1.1"/>
<line x1="441.45" y1="523.00" x2="445.85" y2="523.00" stroke="#0a0a0a" stroke-width="1.3"/>
<rect x="436.40" y="527.06" width="14.50" height="60.64" fill="#0a0a0a"/>
<line x1="443.65" y1="587.70" x2="443.65" y2="590.90" stroke="#111" stroke-width="1.0"/>
<line x1="467.95" y1="500.74" x2="467.95" y2="492.30" stroke="#0a0a0a" stroke-width="1.1"/>
<line x1="465.75" y1="492.30" x2="470.15" y2="492.30" stroke="#0a0a0a" stroke-width="1.3"/>
<rect x="460.70" y="500.24" width="14.50" height="87.46" fill="#0a0a0a"/>
<line x1="467.95" y1="587.70" x2="467.95" y2="590.90" stroke="#111" stroke-width="1.0"/>
<line x1="492.25" y1="501.04" x2="492.25" y2="496.30" stroke="#0a0a0a" stroke-width="1.1"/>
<line x1="490.05" y1="496.30" x2="494.45" y2="496.30" stroke="#0a0a0a" stroke-width="1.3"/>
<rect x="485.00" y="500.54" width="14.50" height="87.17" fill="#0a0a0a"/>
<line x1="492.25" y1="587.70" x2="492.25" y2="590.90" stroke="#111" stroke-width="1.0"/>
<text x="299.00" y="527.50" font-size="9.0" text-anchor="middle" font-weight="normal" fill="#000" stroke="#000" stroke-width="0.14" transform="rotate(-90 299.00 527.50)" textLength="80.0" lengthAdjust="spacingAndGlyphs">THP-1 adhesion [%]</text>
<text x="347.00" y="604.20" font-size="8.3" text-anchor="middle" font-weight="normal" fill="#000" stroke="#000" stroke-width="0.14">PBS</text>
<text x="371.00" y="604.20" font-size="8.3" text-anchor="middle" font-weight="normal" fill="#000" stroke="#000" stroke-width="0.14">hIgG1</text>
<text x="444.00" y="604.20" font-size="8.3" text-anchor="middle" font-weight="normal" fill="#000" stroke="#000" stroke-width="0.14">hVCAM-1-Fc</text>
<line x1="397.00" y1="593.80" x2="491.70" y2="593.80" stroke="#111" stroke-width="1.1"/>
<line x1="397.50" y1="485.20" x2="420.00" y2="485.20" stroke="#111" stroke-width="1.35"/>
<text x="408.95" y="485.00" font-size="9" text-anchor="middle" font-weight="bold" fill="#000" letter-spacing="0.25">***</text>
<line x1="421.80" y1="476.60" x2="443.70" y2="476.60" stroke="#111" stroke-width="1.35"/>
<text x="432.95" y="476.40" font-size="9" text-anchor="middle" font-weight="bold" fill="#000" letter-spacing="0.25">***</text>
<line x1="418.80" y1="461.00" x2="466.20" y2="461.00" stroke="#111" stroke-width="1.35"/>
<text x="442.50" y="457.80" font-size="8" text-anchor="middle" font-weight="normal" fill="#000" stroke="#000" stroke-width="0.14">n.s.</text>
<line x1="444.30" y1="487.70" x2="466.20" y2="487.70" stroke="#111" stroke-width="1.35"/>
<text x="455.45" y="487.50" font-size="9" text-anchor="middle" font-weight="bold" fill="#000" letter-spacing="0.25">**</text>
<line x1="468.30" y1="478.80" x2="490.80" y2="478.80" stroke="#111" stroke-width="1.35"/>
<text x="479.55" y="475.60" font-size="8" text-anchor="middle" font-weight="normal" fill="#000" stroke="#000" stroke-width="0.14">n.s.</text>
<text x="284.00" y="617.30" font-size="7.8" text-anchor="start" font-weight="normal" fill="#000" stroke="#000" stroke-width="0.14">CCL2</text>
<line x1="344.30" y1="614.50" x2="348.70" y2="614.50" stroke="#555" stroke-width="1.0"/>
<line x1="368.30" y1="614.50" x2="372.70" y2="614.50" stroke="#555" stroke-width="1.0"/>
<line x1="392.30" y1="614.50" x2="396.70" y2="614.50" stroke="#555" stroke-width="1.0"/>
<line x1="417.50" y1="614.50" x2="421.50" y2="614.50" stroke="#444" stroke-width="1.0"/>
<line x1="419.50" y1="612.50" x2="419.50" y2="616.50" stroke="#444" stroke-width="1.0"/>
<line x1="441.50" y1="614.50" x2="445.50" y2="614.50" stroke="#444" stroke-width="1.0"/>
<line x1="443.50" y1="612.50" x2="443.50" y2="616.50" stroke="#444" stroke-width="1.0"/>
<line x1="465.50" y1="614.50" x2="469.50" y2="614.50" stroke="#444" stroke-width="1.0"/>
<line x1="467.50" y1="612.50" x2="467.50" y2="616.50" stroke="#444" stroke-width="1.0"/>
<line x1="489.50" y1="614.50" x2="493.50" y2="614.50" stroke="#444" stroke-width="1.0"/>
<line x1="491.50" y1="612.50" x2="491.50" y2="616.50" stroke="#444" stroke-width="1.0"/>
<text x="284.00" y="626.80" font-size="7.8" text-anchor="start" font-weight="normal" fill="#000" stroke="#000" stroke-width="0.14">GDF-15</text>
<line x1="344.30" y1="624.50" x2="348.70" y2="624.50" stroke="#555" stroke-width="1.0"/>
<line x1="368.30" y1="624.50" x2="372.70" y2="624.50" stroke="#555" stroke-width="1.0"/>
<line x1="392.30" y1="624.50" x2="396.70" y2="624.50" stroke="#555" stroke-width="1.0"/>
<line x1="417.30" y1="624.50" x2="421.70" y2="624.50" stroke="#555" stroke-width="1.0"/>
<line x1="441.50" y1="624.50" x2="445.50" y2="624.50" stroke="#444" stroke-width="1.0"/>
<line x1="443.50" y1="622.50" x2="443.50" y2="626.50" stroke="#444" stroke-width="1.0"/>
<line x1="465.50" y1="624.50" x2="469.50" y2="624.50" stroke="#444" stroke-width="1.0"/>
<line x1="467.50" y1="622.50" x2="467.50" y2="626.50" stroke="#444" stroke-width="1.0"/>
<line x1="489.30" y1="624.50" x2="493.70" y2="624.50" stroke="#555" stroke-width="1.0"/>
<text x="284.00" y="636.80" font-size="7.8" text-anchor="start" font-weight="normal" fill="#000" stroke="#000" stroke-width="0.14">TGFβRII ab</text>
<line x1="344.30" y1="634.50" x2="348.70" y2="634.50" stroke="#555" stroke-width="1.0"/>
<line x1="368.30" y1="634.50" x2="372.70" y2="634.50" stroke="#555" stroke-width="1.0"/>
<line x1="392.30" y1="634.50" x2="396.70" y2="634.50" stroke="#555" stroke-width="1.0"/>
<line x1="417.30" y1="634.50" x2="421.70" y2="634.50" stroke="#555" stroke-width="1.0"/>
<line x1="441.30" y1="634.50" x2="445.70" y2="634.50" stroke="#555" stroke-width="1.0"/>
<line x1="465.50" y1="634.50" x2="469.50" y2="634.50" stroke="#444" stroke-width="1.0"/>
<line x1="467.50" y1="632.50" x2="467.50" y2="636.50" stroke="#444" stroke-width="1.0"/>
<line x1="489.50" y1="634.50" x2="493.50" y2="634.50" stroke="#444" stroke-width="1.0"/>
<line x1="491.50" y1="632.50" x2="491.50" y2="636.50" stroke="#444" stroke-width="1.0"/>
<text x="285.20" y="663.80" font-size="11.6" text-anchor="start" font-weight="bold" fill="#000">G</text>
<line x1="325.70" y1="678.00" x2="325.70" y2="818.30" stroke="#111" stroke-width="1.25"/>
<line x1="322.50" y1="817.80" x2="325.70" y2="817.80" stroke="#111" stroke-width="1.25"/>
<text x="320.50" y="820.70" font-size="8.6" text-anchor="end" font-weight="normal" fill="#000" stroke="#000" stroke-width="0.14">0</text>
<line x1="322.50" y1="794.95" x2="325.70" y2="794.95" stroke="#111" stroke-width="1.25"/>
<text x="320.50" y="797.85" font-size="8.6" text-anchor="end" font-weight="normal" fill="#000" stroke="#000" stroke-width="0.14">20</text>
<line x1="322.50" y1="772.10" x2="325.70" y2="772.10" stroke="#111" stroke-width="1.25"/>
<text x="320.50" y="775.00" font-size="8.6" text-anchor="end" font-weight="normal" fill="#000" stroke="#000" stroke-width="0.14">40</text>
<line x1="322.50" y1="749.25" x2="325.70" y2="749.25" stroke="#111" stroke-width="1.25"/>
<text x="320.50" y="752.15" font-size="8.6" text-anchor="end" font-weight="normal" fill="#000" stroke="#000" stroke-width="0.14">60</text>
<line x1="322.50" y1="726.40" x2="325.70" y2="726.40" stroke="#111" stroke-width="1.25"/>
<text x="320.50" y="729.30" font-size="8.6" text-anchor="end" font-weight="normal" fill="#000" stroke="#000" stroke-width="0.14">80</text>
<line x1="322.50" y1="703.55" x2="325.70" y2="703.55" stroke="#111" stroke-width="1.25"/>
<text x="320.50" y="706.45" font-size="8.6" text-anchor="end" font-weight="normal" fill="#000" stroke="#000" stroke-width="0.14">100</text>
<line x1="322.50" y1="680.70" x2="325.70" y2="680.70" stroke="#111" stroke-width="1.25"/>
<text x="320.50" y="683.60" font-size="8.6" text-anchor="end" font-weight="normal" fill="#000" stroke="#000" stroke-width="0.14">120</text>
<line x1="325.20" y1="817.80" x2="512.30" y2="817.80" stroke="#111" stroke-width="1.2"/>
<line x1="346.75" y1="814.07" x2="346.75" y2="811.00" stroke="#0a0a0a" stroke-width="1.1"/>
<line x1="344.55" y1="811.00" x2="348.95" y2="811.00" stroke="#0a0a0a" stroke-width="1.3"/>
<rect x="339.50" y="813.57" width="14.50" height="4.23" fill="#0a0a0a"/>
<line x1="346.75" y1="817.80" x2="346.75" y2="821.00" stroke="#111" stroke-width="1.0"/>
<line x1="371.05" y1="813.73" x2="371.05" y2="810.20" stroke="#0a0a0a" stroke-width="1.1"/>
<line x1="368.85" y1="810.20" x2="373.25" y2="810.20" stroke="#0a0a0a" stroke-width="1.3"/>
<rect x="363.80" y="813.23" width="14.50" height="4.57" fill="#0a0a0a"/>
<line x1="371.05" y1="817.80" x2="371.05" y2="821.00" stroke="#111" stroke-width="1.0"/>
<line x1="395.35" y1="768.03" x2="395.35" y2="754.80" stroke="#0a0a0a" stroke-width="1.1"/>
<line x1="393.15" y1="754.80" x2="397.55" y2="754.80" stroke="#0a0a0a" stroke-width="1.3"/>
<rect x="388.10" y="767.53" width="14.50" height="50.27" fill="#0a0a0a"/>
<line x1="395.35" y1="817.80" x2="395.35" y2="821.00" stroke="#111" stroke-width="1.0"/>
<rect x="412.30" y="703.55" width="14.50" height="114.25" fill="#0a0a0a"/>
<line x1="419.55" y1="817.80" x2="419.55" y2="821.00" stroke="#111" stroke-width="1.0"/>
<line x1="443.65" y1="762.89" x2="443.65" y2="757.30" stroke="#0a0a0a" stroke-width="1.1"/>
<line x1="441.45" y1="757.30" x2="445.85" y2="757.30" stroke="#0a0a0a" stroke-width="1.3"/>
<rect x="436.40" y="762.39" width="14.50" height="55.41" fill="#0a0a0a"/>
<line x1="443.65" y1="817.80" x2="443.65" y2="821.00" stroke="#111" stroke-width="1.0"/>
<line x1="467.95" y1="719.70" x2="467.95" y2="716.70" stroke="#0a0a0a" stroke-width="1.1"/>
<line x1="465.75" y1="716.70" x2="470.15" y2="716.70" stroke="#0a0a0a" stroke-width="1.3"/>
<rect x="460.70" y="719.20" width="14.50" height="98.60" fill="#0a0a0a"/>
<line x1="467.95" y1="817.80" x2="467.95" y2="821.00" stroke="#111" stroke-width="1.0"/>
<line x1="492.25" y1="724.84" x2="492.25" y2="723.50" stroke="#0a0a0a" stroke-width="1.1"/>
<line x1="490.05" y1="723.50" x2="494.45" y2="723.50" stroke="#0a0a0a" stroke-width="1.3"/>
<rect x="485.00" y="724.34" width="14.50" height="93.46" fill="#0a0a0a"/>
<line x1="492.25" y1="817.80" x2="492.25" y2="821.00" stroke="#111" stroke-width="1.0"/>
<text x="299.10" y="748.00" font-size="9.0" text-anchor="middle" font-weight="normal" fill="#000" stroke="#000" stroke-width="0.14" transform="rotate(-90 299.10 748.00)" textLength="80.8" lengthAdjust="spacingAndGlyphs">THP-1 adhesion [%]</text>
<text x="347.00" y="834.80" font-size="8.3" text-anchor="middle" font-weight="normal" fill="#000" stroke="#000" stroke-width="0.14">PBS</text>
<text x="371.00" y="834.80" font-size="8.3" text-anchor="middle" font-weight="normal" fill="#000" stroke="#000" stroke-width="0.14">hIgG1</text>
<text x="444.00" y="834.80" font-size="8.3" text-anchor="middle" font-weight="normal" fill="#000" stroke="#000" stroke-width="0.14">hVCAM-1-Fc</text>
<line x1="396.50" y1="824.20" x2="492.50" y2="824.20" stroke="#111" stroke-width="1.1"/>
<line x1="394.30" y1="700.60" x2="415.50" y2="700.60" stroke="#111" stroke-width="1.35"/>
<text x="405.10" y="700.40" font-size="9" text-anchor="middle" font-weight="bold" fill="#000" letter-spacing="0.25">***</text>
<line x1="420.60" y1="700.60" x2="443.80" y2="700.60" stroke="#111" stroke-width="1.35"/>
<text x="432.40" y="700.40" font-size="9" text-anchor="middle" font-weight="bold" fill="#000" letter-spacing="0.25">***</text>
<line x1="419.30" y1="677.00" x2="468.40" y2="677.00" stroke="#111" stroke-width="1.35"/>
<text x="443.85" y="673.80" font-size="8" text-anchor="middle" font-weight="normal" fill="#000" stroke="#000" stroke-width="0.14">n.s.</text>
<line x1="446.00" y1="690.50" x2="467.10" y2="690.50" stroke="#111" stroke-width="1.35"/>
<text x="456.75" y="690.30" font-size="9" text-anchor="middle" font-weight="bold" fill="#000" letter-spacing="0.25">***</text>
<line x1="471.30" y1="710.30" x2="489.10" y2="710.30" stroke="#111" stroke-width="1.35"/>
<text x="480.20" y="707.10" font-size="8" text-anchor="middle" font-weight="normal" fill="#000" stroke="#000" stroke-width="0.14">n.s.</text>
<text x="284.00" y="847.30" font-size="7.8" text-anchor="start" font-weight="normal" fill="#000" stroke="#000" stroke-width="0.14">CCL2</text>
<line x1="344.30" y1="844.50" x2="348.70" y2="844.50" stroke="#555" stroke-width="1.0"/>
<line x1="368.30" y1="844.50" x2="372.70" y2="844.50" stroke="#555" stroke-width="1.0"/>
<line x1="392.30" y1="844.50" x2="396.70" y2="844.50" stroke="#555" stroke-width="1.0"/>
<line x1="417.50" y1="844.50" x2="421.50" y2="844.50" stroke="#444" stroke-width="1.0"/>
<line x1="419.50" y1="842.50" x2="419.50" y2="846.50" stroke="#444" stroke-width="1.0"/>
<line x1="441.50" y1="844.50" x2="445.50" y2="844.50" stroke="#444" stroke-width="1.0"/>
<line x1="443.50" y1="842.50" x2="443.50" y2="846.50" stroke="#444" stroke-width="1.0"/>
<line x1="465.50" y1="844.50" x2="469.50" y2="844.50" stroke="#444" stroke-width="1.0"/>
<line x1="467.50" y1="842.50" x2="467.50" y2="846.50" stroke="#444" stroke-width="1.0"/>
<line x1="489.50" y1="844.50" x2="493.50" y2="844.50" stroke="#444" stroke-width="1.0"/>
<line x1="491.50" y1="842.50" x2="491.50" y2="846.50" stroke="#444" stroke-width="1.0"/>
<text x="284.00" y="857.40" font-size="7.8" text-anchor="start" font-weight="normal" fill="#000" stroke="#000" stroke-width="0.14">GDF-15</text>
<line x1="344.30" y1="854.50" x2="348.70" y2="854.50" stroke="#555" stroke-width="1.0"/>
<line x1="368.30" y1="854.50" x2="372.70" y2="854.50" stroke="#555" stroke-width="1.0"/>
<line x1="392.30" y1="854.50" x2="396.70" y2="854.50" stroke="#555" stroke-width="1.0"/>
<line x1="417.30" y1="854.50" x2="421.70" y2="854.50" stroke="#555" stroke-width="1.0"/>
<line x1="441.50" y1="854.50" x2="445.50" y2="854.50" stroke="#444" stroke-width="1.0"/>
<line x1="443.50" y1="852.50" x2="443.50" y2="856.50" stroke="#444" stroke-width="1.0"/>
<line x1="465.50" y1="854.50" x2="469.50" y2="854.50" stroke="#444" stroke-width="1.0"/>
<line x1="467.50" y1="852.50" x2="467.50" y2="856.50" stroke="#444" stroke-width="1.0"/>
<line x1="489.30" y1="854.50" x2="493.70" y2="854.50" stroke="#555" stroke-width="1.0"/>
<text x="284.00" y="867.20" font-size="7.8" text-anchor="start" font-weight="normal" fill="#000" stroke="#000" stroke-width="0.14">GW-788388</text>
<line x1="344.30" y1="864.50" x2="348.70" y2="864.50" stroke="#555" stroke-width="1.0"/>
<line x1="368.30" y1="864.50" x2="372.70" y2="864.50" stroke="#555" stroke-width="1.0"/>
<line x1="392.30" y1="864.50" x2="396.70" y2="864.50" stroke="#555" stroke-width="1.0"/>
<line x1="417.30" y1="864.50" x2="421.70" y2="864.50" stroke="#555" stroke-width="1.0"/>
<line x1="441.30" y1="864.50" x2="445.70" y2="864.50" stroke="#555" stroke-width="1.0"/>
<line x1="465.50" y1="864.50" x2="469.50" y2="864.50" stroke="#444" stroke-width="1.0"/>
<line x1="467.50" y1="862.50" x2="467.50" y2="866.50" stroke="#444" stroke-width="1.0"/>
<line x1="489.50" y1="864.50" x2="493.50" y2="864.50" stroke="#444" stroke-width="1.0"/>
<line x1="491.50" y1="862.50" x2="491.50" y2="866.50" stroke="#444" stroke-width="1.0"/>
<text x="284.00" y="877.30" font-size="7.8" text-anchor="start" font-weight="normal" fill="#000" stroke="#000" stroke-width="0.14">TGFβRII ab</text>
<line x1="344.30" y1="874.50" x2="348.70" y2="874.50" stroke="#555" stroke-width="1.0"/>
<line x1="368.30" y1="874.50" x2="372.70" y2="874.50" stroke="#555" stroke-width="1.0"/>
<line x1="392.30" y1="874.50" x2="396.70" y2="874.50" stroke="#555" stroke-width="1.0"/>
<line x1="417.30" y1="874.50" x2="421.70" y2="874.50" stroke="#555" stroke-width="1.0"/>
<line x1="441.30" y1="874.50" x2="445.70" y2="874.50" stroke="#555" stroke-width="1.0"/>
<line x1="465.50" y1="874.50" x2="469.50" y2="874.50" stroke="#444" stroke-width="1.0"/>
<line x1="467.50" y1="872.50" x2="467.50" y2="876.50" stroke="#444" stroke-width="1.0"/>
<line x1="489.50" y1="874.50" x2="493.50" y2="874.50" stroke="#444" stroke-width="1.0"/>
<line x1="491.50" y1="872.50" x2="491.50" y2="876.50" stroke="#444" stroke-width="1.0"/>
<text x="7.60" y="455.50" font-size="11.6" text-anchor="start" font-weight="bold" fill="#000">E</text>
<text x="21.00" y="517.00" font-size="8.6" text-anchor="start" font-weight="normal" fill="#000" stroke="#000" stroke-width="0.14">siRNA</text>
<text x="55.40" y="517.00" font-size="8.6" text-anchor="start" font-weight="normal" fill="#000" stroke="#000" stroke-width="0.14">ctrl</text>
<text x="77.50" y="517.00" font-size="8.6" text-anchor="start" font-weight="normal" fill="#000" stroke="#000" stroke-width="0.14">ALK-5</text>
<text x="6.70" y="535.60" font-size="7.6" text-anchor="start" font-weight="bold" fill="#111">50 kDa</text>
<text x="6.70" y="554.80" font-size="7.6" text-anchor="start" font-weight="bold" fill="#111">50 kDa</text>
<line x1="31.40" y1="534.20" x2="45.20" y2="534.20" stroke="#111" stroke-width="1.2"/>
<line x1="31.40" y1="553.20" x2="45.20" y2="553.20" stroke="#111" stroke-width="1.2"/>
<defs><filter id="bl" x="-10%" y="-40%" width="120%" height="180%"><feGaussianBlur stdDeviation="0.9"/></filter></defs>
<rect x="46.80" y="526.50" width="51.00" height="13.40" fill="#d9d9d9"/>
<rect x="46.80" y="546.40" width="51.00" height="14.20" fill="#d4d4d4"/>
<g filter="url(#bl)">
<rect x="48.80" y="529.30" width="22.40" height="6.20" fill="#101010"/>
<rect x="73.80" y="529.20" width="22.40" height="4.40" fill="#5c5c5c"/>
<rect x="47.60" y="550.20" width="49.40" height="4.80" fill="#141414"/>
</g>
<text x="100.20" y="536.60" font-size="8" text-anchor="start" font-weight="normal" fill="#000" stroke="#000" stroke-width="0.14">ALK-5</text>
<text x="100.00" y="557.40" font-size="7.9" text-anchor="start" font-weight="normal" fill="#000" stroke="#000" stroke-width="0.14">α-Tubulin</text>
<line x1="180.50" y1="502.00" x2="180.50" y2="567.00" stroke="#111" stroke-width="1.1"/>
<line x1="177.30" y1="566.50" x2="180.50" y2="566.50" stroke="#111" stroke-width="1.1"/>
<g transform="translate(174.90 569.20) scale(1 0.86)">
<text x="0.00" y="0.00" font-size="8.7" text-anchor="end" font-weight="normal" fill="#000" stroke="#000" stroke-width="0.14">0</text>
</g>
<line x1="177.30" y1="556.24" x2="180.50" y2="556.24" stroke="#111" stroke-width="1.1"/>
<g transform="translate(174.90 558.94) scale(1 0.86)">
<text x="0.00" y="0.00" font-size="8.7" text-anchor="end" font-weight="normal" fill="#000" stroke="#000" stroke-width="0.14">20</text>
</g>
<line x1="177.30" y1="545.98" x2="180.50" y2="545.98" stroke="#111" stroke-width="1.1"/>
<g transform="translate(174.90 548.68) scale(1 0.86)">
<text x="0.00" y="0.00" font-size="8.7" text-anchor="end" font-weight="normal" fill="#000" stroke="#000" stroke-width="0.14">40</text>
</g>
<line x1="177.30" y1="535.72" x2="180.50" y2="535.72" stroke="#111" stroke-width="1.1"/>
<g transform="translate(174.90 538.42) scale(1 0.86)">
<text x="0.00" y="0.00" font-size="8.7" text-anchor="end" font-weight="normal" fill="#000" stroke="#000" stroke-width="0.14">60</text>
</g>
<line x1="177.30" y1="525.46" x2="180.50" y2="525.46" stroke="#111" stroke-width="1.1"/>
<g transform="translate(174.90 528.16) scale(1 0.86)">
<text x="0.00" y="0.00" font-size="8.7" text-anchor="end" font-weight="normal" fill="#000" stroke="#000" stroke-width="0.14">80</text>
</g>
<line x1="177.30" y1="515.20" x2="180.50" y2="515.20" stroke="#111" stroke-width="1.1"/>
<g transform="translate(174.90 517.90) scale(1 0.86)">
<text x="0.00" y="0.00" font-size="8.7" text-anchor="end" font-weight="normal" fill="#000" stroke="#000" stroke-width="0.14">100</text>
</g>
<line x1="177.30" y1="504.94" x2="180.50" y2="504.94" stroke="#111" stroke-width="1.1"/>
<g transform="translate(174.90 507.64) scale(1 0.86)">
<text x="0.00" y="0.00" font-size="8.7" text-anchor="end" font-weight="normal" fill="#000" stroke="#000" stroke-width="0.14">120</text>
</g>
<line x1="180.00" y1="566.50" x2="271.60" y2="566.50" stroke="#111" stroke-width="1.2"/>
<rect x="192.70" y="515.20" width="25.10" height="51.30" fill="#0a0a0a"/>
<line x1="246.90" y1="556.74" x2="246.90" y2="552.60" stroke="#111" stroke-width="1.1"/>
<line x1="244.90" y1="552.60" x2="248.90" y2="552.60" stroke="#111" stroke-width="1.3"/>
<rect x="234.50" y="556.24" width="25.00" height="10.26" fill="#bdbdbd"/>
<line x1="205.30" y1="566.50" x2="205.30" y2="569.50" stroke="#111" stroke-width="1.0"/>
<line x1="246.90" y1="566.50" x2="246.90" y2="569.50" stroke="#111" stroke-width="1.0"/>
<line x1="208.00" y1="510.60" x2="246.30" y2="510.60" stroke="#111" stroke-width="1.35"/>
<text x="227.35" y="510.40" font-size="9" text-anchor="middle" font-weight="bold" fill="#000" letter-spacing="0.25">***</text>
<text x="154.70" y="534.30" font-size="10" text-anchor="middle" font-weight="normal" fill="#000" stroke="#000" stroke-width="0.14" transform="rotate(-90 154.70 534.30)" textLength="88.3" lengthAdjust="spacingAndGlyphs">ALK-5 expression [%]</text>
<rect x="184.60" y="463.80" width="11.40" height="3.60" fill="#0a0a0a"/>
<rect x="184.60" y="475.90" width="11.40" height="3.60" fill="#c4c4c4"/>
<text x="199.00" y="468.20" font-size="7.8" text-anchor="start" font-weight="normal" fill="#000" stroke="#000" stroke-width="0.14">ctrl siRNA</text>
<text x="199.00" y="479.90" font-size="7.8" text-anchor="start" font-weight="normal" fill="#000" stroke="#000" stroke-width="0.14">ALK-5 siRNA9</text>
<line x1="65.50" y1="621.80" x2="65.50" y2="752.50" stroke="#111" stroke-width="1.1"/>
<line x1="62.30" y1="752.00" x2="65.50" y2="752.00" stroke="#111" stroke-width="1.1"/>
<text x="59.70" y="754.90" font-size="8.5" text-anchor="end" font-weight="normal" fill="#000" stroke="#000" stroke-width="0.14">0</text>
<line x1="62.30" y1="730.80" x2="65.50" y2="730.80" stroke="#111" stroke-width="1.1"/>
<text x="59.70" y="733.70" font-size="8.5" text-anchor="end" font-weight="normal" fill="#000" stroke="#000" stroke-width="0.14">20</text>
<line x1="62.30" y1="709.60" x2="65.50" y2="709.60" stroke="#111" stroke-width="1.1"/>
<text x="59.70" y="712.50" font-size="8.5" text-anchor="end" font-weight="normal" fill="#000" stroke="#000" stroke-width="0.14">40</text>
<line x1="62.30" y1="688.40" x2="65.50" y2="688.40" stroke="#111" stroke-width="1.1"/>
<text x="59.70" y="691.30" font-size="8.5" text-anchor="end" font-weight="normal" fill="#000" stroke="#000" stroke-width="0.14">60</text>
<line x1="62.30" y1="667.20" x2="65.50" y2="667.20" stroke="#111" stroke-width="1.1"/>
<text x="59.70" y="670.10" font-size="8.5" text-anchor="end" font-weight="normal" fill="#000" stroke="#000" stroke-width="0.14">80</text>
<line x1="62.30" y1="646.00" x2="65.50" y2="646.00" stroke="#111" stroke-width="1.1"/>
<text x="59.70" y="648.90" font-size="8.5" text-anchor="end" font-weight="normal" fill="#000" stroke="#000" stroke-width="0.14">100</text>
<line x1="62.30" y1="624.80" x2="65.50" y2="624.80" stroke="#111" stroke-width="1.1"/>
<text x="59.70" y="627.70" font-size="8.5" text-anchor="end" font-weight="normal" fill="#000" stroke="#000" stroke-width="0.14">120</text>
<line x1="65.00" y1="752.00" x2="231.70" y2="752.00" stroke="#111" stroke-width="1.2"/>
<line x1="86.05" y1="731.51" x2="86.05" y2="716.50" stroke="#111" stroke-width="1.1"/>
<line x1="84.05" y1="716.50" x2="88.05" y2="716.50" stroke="#111" stroke-width="1.3"/>
<rect x="80.60" y="731.01" width="10.90" height="20.99" fill="#0a0a0a"/>
<line x1="97.40" y1="740.42" x2="97.40" y2="734.60" stroke="#111" stroke-width="1.1"/>
<line x1="95.40" y1="734.60" x2="99.40" y2="734.60" stroke="#111" stroke-width="1.3"/>
<rect x="91.90" y="739.92" width="11.00" height="12.08" fill="#bdbdbd"/>
<line x1="123.70" y1="737.66" x2="123.70" y2="729.20" stroke="#111" stroke-width="1.1"/>
<line x1="121.70" y1="729.20" x2="125.70" y2="729.20" stroke="#111" stroke-width="1.3"/>
<rect x="118.30" y="737.16" width="10.80" height="14.84" fill="#0a0a0a"/>
<line x1="135.10" y1="740.84" x2="135.10" y2="738.40" stroke="#111" stroke-width="1.1"/>
<line x1="133.10" y1="738.40" x2="137.10" y2="738.40" stroke="#111" stroke-width="1.3"/>
<rect x="129.60" y="740.34" width="11.00" height="11.66" fill="#bdbdbd"/>
<rect x="155.80" y="646.00" width="11.30" height="106.00" fill="#0a0a0a"/>
<rect x="167.70" y="646.00" width="11.00" height="106.00" fill="#bdbdbd"/>
<line x1="199.30" y1="710.52" x2="199.30" y2="701.70" stroke="#111" stroke-width="1.1"/>
<line x1="197.30" y1="701.70" x2="201.30" y2="701.70" stroke="#111" stroke-width="1.3"/>
<rect x="193.80" y="710.02" width="11.00" height="41.98" fill="#0a0a0a"/>
<line x1="210.90" y1="660.28" x2="210.90" y2="651.40" stroke="#111" stroke-width="1.1"/>
<line x1="208.90" y1="651.40" x2="212.90" y2="651.40" stroke="#111" stroke-width="1.3"/>
<rect x="205.40" y="659.78" width="11.00" height="92.22" fill="#bdbdbd"/>
<line x1="91.70" y1="752.00" x2="91.70" y2="755.20" stroke="#111" stroke-width="1.0"/>
<line x1="129.40" y1="752.00" x2="129.40" y2="755.20" stroke="#111" stroke-width="1.0"/>
<line x1="167.20" y1="752.00" x2="167.20" y2="755.20" stroke="#111" stroke-width="1.0"/>
<line x1="205.00" y1="752.00" x2="205.00" y2="755.20" stroke="#111" stroke-width="1.0"/>
<text x="38.20" y="688.70" font-size="9.1" text-anchor="middle" font-weight="normal" fill="#000" stroke="#000" stroke-width="0.14" transform="rotate(-90 38.20 688.70)" textLength="81.6" lengthAdjust="spacingAndGlyphs">THP-1 adhesion [%]</text>
<rect x="72.80" y="603.80" width="11.40" height="3.60" fill="#0a0a0a"/>
<rect x="72.80" y="615.40" width="11.40" height="3.60" fill="#c4c4c4"/>
<text x="87.80" y="608.00" font-size="7.8" text-anchor="start" font-weight="normal" fill="#000" stroke="#000" stroke-width="0.14">ctrl siRNA</text>
<text x="87.80" y="619.60" font-size="7.8" text-anchor="start" font-weight="normal" fill="#000" stroke="#000" stroke-width="0.14">ALK-5 siRNA9</text>
<line x1="172.00" y1="622.00" x2="209.70" y2="622.00" stroke="#111" stroke-width="1.35"/>
<text x="190.85" y="618.80" font-size="8" text-anchor="middle" font-weight="normal" fill="#000" stroke="#000" stroke-width="0.14">n.s.</text>
<line x1="160.40" y1="635.80" x2="196.20" y2="635.80" stroke="#111" stroke-width="1.35"/>
<text x="178.50" y="635.60" font-size="9" text-anchor="middle" font-weight="bold" fill="#000" letter-spacing="0.25">***</text>
<line x1="197.50" y1="646.50" x2="212.00" y2="646.50" stroke="#111" stroke-width="1.35"/>
<text x="204.95" y="646.30" font-size="9" text-anchor="middle" font-weight="bold" fill="#000" letter-spacing="0.25">**</text>
<text x="92.00" y="769.40" font-size="8" text-anchor="middle" font-weight="normal" fill="#000" stroke="#000" stroke-width="0.14">PBS</text>
<text x="129.00" y="769.40" font-size="8" text-anchor="middle" font-weight="normal" fill="#000" stroke="#000" stroke-width="0.14">hIgG1</text>
<text x="186.00" y="769.40" font-size="8" text-anchor="middle" font-weight="normal" fill="#000" stroke="#000" stroke-width="0.14">hVCAM-1-Fc</text>
<line x1="164.40" y1="758.80" x2="208.00" y2="758.80" stroke="#111" stroke-width="1.1"/>
<text x="31.00" y="781.80" font-size="7.8" text-anchor="start" font-weight="normal" fill="#000" stroke="#000" stroke-width="0.14">CCL2</text>
<line x1="90.30" y1="779.50" x2="94.70" y2="779.50" stroke="#555" stroke-width="1.0"/>
<line x1="127.30" y1="779.50" x2="131.70" y2="779.50" stroke="#555" stroke-width="1.0"/>
<line x1="165.50" y1="779.50" x2="169.50" y2="779.50" stroke="#444" stroke-width="1.0"/>
<line x1="167.50" y1="777.50" x2="167.50" y2="781.50" stroke="#444" stroke-width="1.0"/>
<line x1="203.50" y1="779.50" x2="207.50" y2="779.50" stroke="#444" stroke-width="1.0"/>
<line x1="205.50" y1="777.50" x2="205.50" y2="781.50" stroke="#444" stroke-width="1.0"/>
<text x="31.00" y="791.80" font-size="7.8" text-anchor="start" font-weight="normal" fill="#000" stroke="#000" stroke-width="0.14">GDF-15</text>
<line x1="90.30" y1="789.50" x2="94.70" y2="789.50" stroke="#555" stroke-width="1.0"/>
<line x1="127.30" y1="789.50" x2="131.70" y2="789.50" stroke="#555" stroke-width="1.0"/>
<line x1="165.30" y1="789.50" x2="169.70" y2="789.50" stroke="#555" stroke-width="1.0"/>
<line x1="203.50" y1="789.50" x2="207.50" y2="789.50" stroke="#444" stroke-width="1.0"/>
<line x1="205.50" y1="787.50" x2="205.50" y2="791.50" stroke="#444" stroke-width="1.0"/>
</svg>
<div class="frame"></div>
</body>
</html>
